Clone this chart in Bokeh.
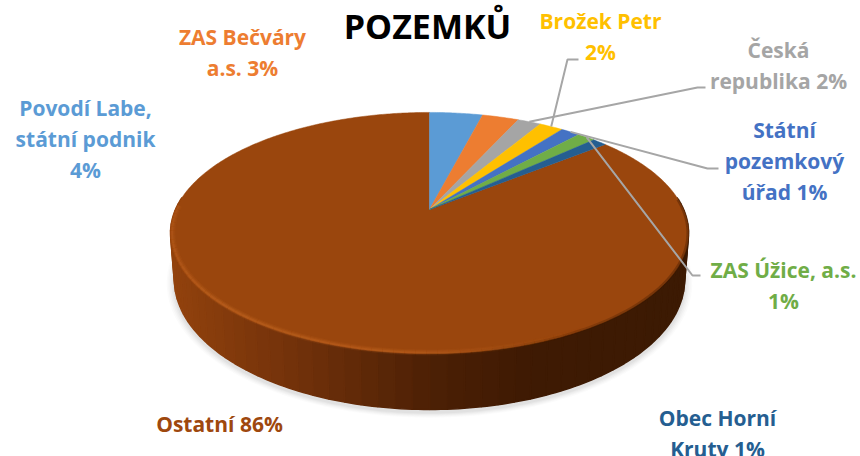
import numpy as np
from bokeh.plotting import figure
from bokeh.models import Range1d
from bokeh.core.properties import value
from bokeh.embed import file_html
from bokeh.resources import INLINE

# ---- data (share of land, %) ----
owners = ["Povodí Labe, státní podnik", "ZAS Bečváry a.s.", "Česká republika", "Brožek Petr",
          "Státní pozemkový úřad", "ZAS Úžice, a.s.", "Obec Horní Kruty", "Ostatní"]
shares = [4.0, 2.75, 1.75, 1.8, 1.45, 1.35, 1.05, 85.85]
colors = ["#5b9bd5", "#ed7d31", "#a5a5a5", "#ffc000", "#4472c4", "#70ad47", "#255e91", "#9a460d"]
title = "POZEMKŮ"
label_lines = [["Povodí Labe,", "státní podnik", "4%"], ["ZAS Bečváry", "a.s. 3%"], ["Česká", "republika 2%"],
               ["Brožek Petr", "2%"], ["Státní", "pozemkový", "úřad 1%"], ["ZAS Úžice, a.s.", "1%"],
               ["Obec Horní", "Kruty 1%"], ["Ostatní 86%"]]

# ---- layout (page pixels) ----
CX, CY, RX, SY, K, DEPTH = 429.0, 209.0, 254.0, 116.0, 0.195, 45.0
label_pos = [(85, 107), (242, 36), (778, 49), (600, 20), (784, 129), (783, 269), (717, 417), (219, 423)]
LINE_H = 31.0
FONT = value("Open Sans")
leaders = {2: [(697, 87), (705, 87)], 3: [(567, 59), (578, 59)], 4: [(707, 168), (718, 168)], 5: [(692, 275), (700, 275)]}


def top(t):
    u, v = np.sin(t), np.cos(t)
    d = 1 + K * v
    return CX + RX * u / d, CY - SY * v / d


def bottom(t):
    u, v = np.sin(t), np.cos(t)
    d = 1 + K * v
    return CX + 0.985 * RX * u / d, CY - SY * v / d + DEPTH / d


def lerp_color(x, stops):
    xs = [s[0] for s in stops]
    return "#%02x%02x%02x" % tuple(int(round(np.interp(x, xs, [s[1][i] for s in stops]))) for i in range(3))


side_stops = [(170, (146, 66, 13)), (300, (112, 48, 10)), (430, (76, 32, 5)), (530, (62, 26, 3)), (690, (60, 26, 3))]

p = figure(width=860, height=456, output_backend="svg", toolbar_location=None,
           x_range=Range1d(0, 860), y_range=Range1d(456, 0), min_border=0)
p.axis.visible = False
p.grid.visible = False
p.outline_line_color = None
p.background_fill_color = "white"

# soft shadow under the disc
ts = np.radians(np.linspace(0, 360, 241))
bx, by = bottom(ts)
for grow, a in [(1.030, .035), (1.024, .04), (1.018, .05), (1.012, .06), (1.006, .07)]:
    p.patch(CX + (bx - CX) * grow, by + 3 + (by - by.mean()) * (grow - 1) * 1.2, fill_color="#808080", fill_alpha=a, line_color=None)

# side wall
edges = np.radians(np.linspace(84, 276, 61))
xs_side, ys_side, cols = [], [], []
for a, b in zip(edges[:-1], edges[1:]):
    seg = np.linspace(a, b, 4)
    tx, ty = top(seg)
    ux, uy = bottom(seg)
    xs_side.append(np.r_[tx, ux[::-1]].tolist())
    ys_side.append(np.r_[ty, uy[::-1]].tolist())
    cols.append(lerp_color(float(tx.mean()), side_stops))
p.patches(xs_side, ys_side, fill_color=cols, line_color=cols, line_width=1.5)

# top face: slices drawn from the share values
cum = np.cumsum([0] + shares) / sum(shares) * 2 * np.pi
xs_top, ys_top, mids = [], [], []
for i in range(len(shares)):
    seg = np.linspace(cum[i], cum[i + 1], max(3, int(shares[i] * 6)))
    rx_, ry_ = top(seg)
    xs_top.append(np.r_[CX, rx_].tolist())
    ys_top.append(np.r_[CY, ry_].tolist())
    mids.append((cum[i] + cum[i + 1]) / 2)
# large slice first so the small ones sit cleanly on top
order = [7, 0, 1, 2, 3, 4, 5, 6]
p.patches([xs_top[i] for i in order], [ys_top[i] for i in order], fill_color=[colors[i] for i in order],
          line_color=[colors[i] for i in order], line_width=0.5)

# bevel highlight on the near-left rim
bt = np.radians(np.linspace(272, 150, 61))
for width, alpha, inset in [(6, .10, .992), (4, .16, .993), (2, .22, .994)]:
    sx, sy, al = [], [], []
    for a, b in zip(bt[:-1], bt[1:]):
        seg = np.array([a, b])
        x_, y_ = top(seg)
        sx.append((CX + (x_ - CX) * inset).tolist())
        sy.append((CY + (y_ - CY) * inset).tolist())
        m = np.degrees((a + b) / 2)
        al.append(float(alpha * np.interp(m, [150, 180, 225, 272], [0, .8, 1, .5])))
    p.multi_line(sx, sy, line_color="#d9762f", line_alpha=al, line_width=width)

# dark blur along the near-right rim
bt = np.radians(np.linspace(85, 180, 51))
sx, sy, al = [], [], []
for a, b in zip(bt[:-1], bt[1:]):
    x_, y_ = top(np.array([a, b]))
    sx.append((CX + (x_ - CX) * .998).tolist())
    sy.append((CY + (y_ - CY) * .998).tolist())
    al.append(float(.45 * np.interp(np.degrees((a + b) / 2), [85, 130, 180], [.8, .8, 0])))
p.multi_line(sx, sy, line_color="#3c1a03", line_alpha=al, line_width=3)

# leader lines start on the rim at each slice's middle
for i, pts in leaders.items():
    sxx, syy = top(mids[i])
    p.line([float(sxx)] + [q[0] for q in pts], [float(syy)] + [q[1] for q in pts], line_color="#a6a6a6", line_width=2)

# labels
for i, lines in enumerate(label_lines):
    lx, ly = label_pos[i]
    col = "#9e480e" if i == 7 else colors[i]
    yy = [ly + n * LINE_H for n in range(len(lines))]
    p.text([lx] * len(lines), yy, text=lines, text_color=col, text_font=FONT, text_font_style="bold",
           text_font_size="21px", text_align="center", text_baseline="middle")

p.text([427], [25], text=[title], text_color="#000000", text_font=FONT, text_font_style="bold",
       text_font_size="34px", text_align="center", text_baseline="middle")

open("out.html", "w").write(file_html(p, INLINE))
